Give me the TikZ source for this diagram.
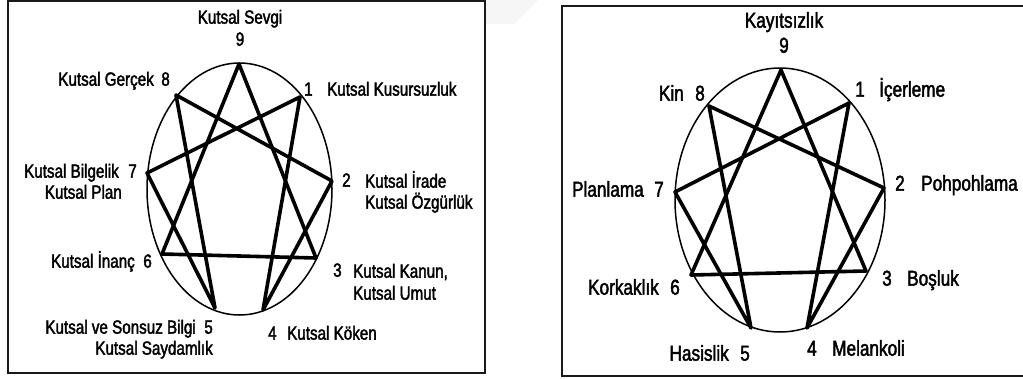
\documentclass[tikz,border=0pt]{standalone}
\usepackage{fontspec}
\setmainfont{Liberation Sans}
\newfontfamily\labfont[FakeStretch=0.8,FakeBold=2]{Liberation Sans}
\begin{document}
\begin{tikzpicture}[x=1pt,y=-1pt,
  frame/.style={line width=2pt,draw=black!90},
  ring/.style={line width=1.5pt},
  starline/.style={line width=3.6pt,line join=round,line cap=round},
  lt/.style={font=\fontsize{19}{22}\labfont,inner sep=0pt},
  rt/.style={font=\fontsize{21.5}{24}\labfont,inner sep=0pt}]
\useasboundingbox (0,0) rectangle (1023,378);
\fill[white] (0,0) rectangle (1023,378);
\fill[gray!7] (486,0) -- (538,0) -- (514,24) -- (486,24) -- cycle;

% ---------- left panel ----------
\draw[frame] (8,1) rectangle (485,373);
\draw[ring] (239.5,189) ellipse [x radius=92.5pt, y radius=126pt];
\coordinate (L9) at (239,64);
\coordinate (L1) at (300,97);
\coordinate (L2) at (332,181);
\coordinate (L3) at (316,258);
\coordinate (L4) at (263,310);
\coordinate (L5) at (215,308);
\coordinate (L6) at (162,254);
\coordinate (L7) at (147,173);
\coordinate (L8) at (176,95);
\draw[starline] (L9) -- (L3) -- (L6) -- cycle;
\draw[starline] (L1) -- (L4) -- (L2) -- (L8) -- (L5) -- (L7) -- cycle;

\node[lt,anchor=mid] (tl9) at (240,21) {Kutsal Sevgi};
\node[lt,anchor=mid] (nl9) at (240,43) {9};
\node[lt,anchor=mid east] (tl8) at (154,83) {Kutsal Gerçek};
\node[lt,anchor=mid east] (nl8) at (170,83) {8};
\node[lt,anchor=mid west] (nl1) at (304,93) {1};
\node[lt,anchor=mid west] (tl1) at (327,93) {Kutsal Kusursuzluk};
\node[lt,anchor=mid west] (nl2) at (342,184) {2};
\node[lt,anchor=mid west] (tl2a) at (365,185) {Kutsal İrade};
\node[lt,anchor=mid west] (tl2b) at (365,206) {Kutsal Özgürlük};
\node[lt,anchor=mid east] (tl7a) at (119,175) {Kutsal Bilgelik};
\node[lt,anchor=mid east] (nl7) at (137,175) {7};
\node[lt,anchor=mid east] (tl7b) at (122,196) {Kutsal Plan};
\node[lt,anchor=mid east] (tl6) at (135,265) {Kutsal İnanç};
\node[lt,anchor=mid east] (nl6) at (152,265) {6};
\node[lt,anchor=mid west] (nl3) at (333,274) {3};
\node[lt,anchor=mid west] (tl3a) at (353,275) {Kutsal Kanun,};
\node[lt,anchor=mid west] (tl3b) at (353,297) {Kutsal Umut};
\node[lt,anchor=mid west] (nl4) at (268,337) {4};
\node[lt,anchor=mid west] (tl4) at (287,337) {Kutsal Köken};
\node[lt,anchor=mid east] (tl5a) at (196,331) {Kutsal ve Sonsuz Bilgi};
\node[lt,anchor=mid east] (nl5) at (213,331) {5};
\node[lt,anchor=mid east] (tl5b) at (213,352) {Kutsal Saydamlık};

% ---------- right panel ----------
\draw[frame] (1024,6) -- (562,6) -- (562,376) -- (1024,376);
\draw[ring] (780,200) ellipse [x radius=105pt, y radius=132pt];
\coordinate (R9) at (781,70);
\coordinate (R1) at (849,103);
\coordinate (R2) at (884,188);
\coordinate (R3) at (866,271);
\coordinate (R4) at (807,328);
\coordinate (R5) at (751,328);
\coordinate (R6) at (691,275);
\coordinate (R7) at (675,192);
\coordinate (R8) at (709,106);
\draw[starline] (R9) -- (R3) -- (R6) -- cycle;
\draw[starline] (R1) -- (R4) -- (R2) -- (R8) -- (R5) -- (R7) -- cycle;

\node[rt,anchor=mid] (tr9) at (784,25) {Kayıtsızlık};
\node[rt,anchor=mid] (nr9) at (784,50) {9};
\node[rt,anchor=mid east] (tr8) at (684,98) {Kin};
\node[rt,anchor=mid east] (nr8) at (705,98) {8};
\node[rt,anchor=mid west] (nr1) at (855,94) {1};
\node[rt,anchor=mid west] (tr1) at (879,94) {İçerleme};
\node[rt,anchor=mid east] (tr7) at (644,194) {Planlama};
\node[rt,anchor=mid east] (nr7) at (664,194) {7};
\node[rt,anchor=mid west] (nr2) at (895,188) {2};
\node[rt,anchor=mid west] (tr2) at (921,188) {Pohpohlama};
\node[rt,anchor=mid east] (tr6) at (659,292) {Korkaklık};
\node[rt,anchor=mid east] (nr6) at (680,292) {6};
\node[rt,anchor=mid west] (nr3) at (882,283) {3};
\node[rt,anchor=mid west] (tr3) at (907,283) {Boşluk};
\node[rt,anchor=mid east] (tr5) at (729,358) {Hasislik};
\node[rt,anchor=mid east] (nr5) at (750,358) {5};
\node[rt,anchor=mid west] (nr4) at (807,353) {4};
\node[rt,anchor=mid west] (tr4) at (832,353) {Melankoli};
\end{tikzpicture}
\end{document}
